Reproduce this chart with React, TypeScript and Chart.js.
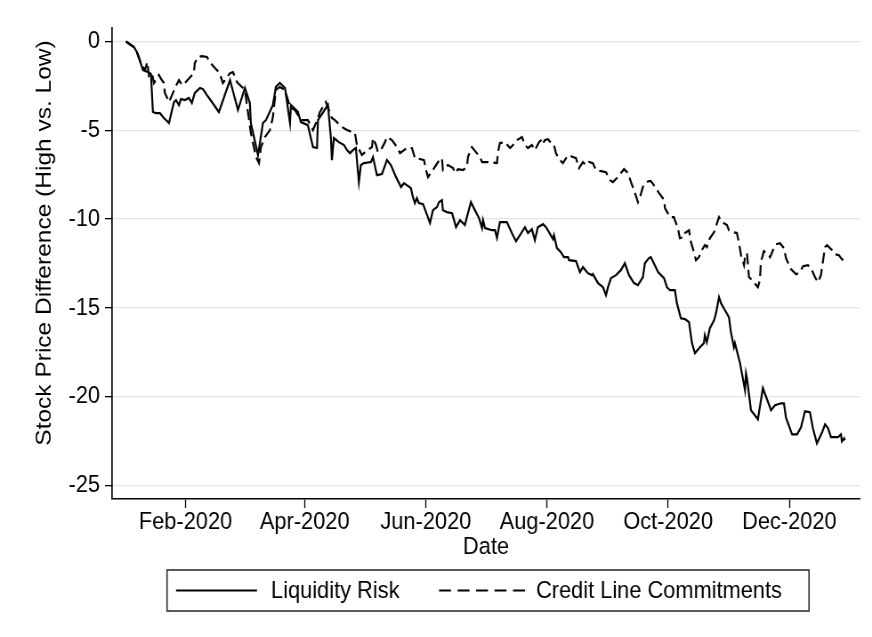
import React, { useEffect, useRef } from "react";
import { Chart, registerables } from "chart.js";

Chart.register(...registerables);

// Day of year 2020 (Jan 1 = 0) for each observation
const liqDays = [
  1.0, 3.5, 5.0, 6.5, 7.6, 8.6, 9.6, 12.1, 13.6, 14.6, 16.1, 18.1, 20.1, 22.7, 24.2, 25.2, 26.2, 27.7, 28.7, 30.7,
  32.7, 34.2, 35.7, 38.3, 39.8, 41.8, 44.3, 47.8, 53.4, 57.4, 60.9, 63.4, 63.9, 67.5, 70.0, 71.5, 75.0, 76.5, 78.5,
  81.1, 83.6, 84.1, 87.6, 89.1, 92.6, 95.2, 97.2, 97.7, 102.7, 104.2, 104.7, 105.7, 108.2, 110.8, 112.3, 113.8,
  115.3, 116.8, 117.3, 118.3, 119.3, 120.8, 124.4, 125.4, 127.4, 129.9, 132.4, 134.4, 137.0, 139.5, 141.0, 144.5,
  145.5, 146.5, 147.5, 148.5, 150.6, 152.1, 154.1, 155.6, 157.6, 158.6, 160.1, 160.6, 162.6, 165.2, 167.2, 169.2,
  171.7, 172.7, 174.7, 176.7, 178.8, 180.3, 180.8, 181.8, 185.3, 186.8, 187.8, 189.3, 192.8, 195.3, 197.4, 199.4,
  201.9, 203.4, 205.4, 206.9, 208.4, 211.0, 212.5, 214.0, 216.0, 216.5, 218.0, 220.0, 221.5, 223.6, 224.1, 227.6,
  229.6, 231.1, 233.6, 235.6, 236.1, 238.7, 241.2, 242.7, 243.7, 245.2, 247.7, 250.2, 252.2, 254.3, 256.8, 258.8,
  261.3, 262.3, 264.3, 265.3, 266.8, 268.9, 270.4, 271.9, 273.4, 274.9, 277.4, 278.4, 280.4, 282.5, 284.5, 286.0,
  287.5, 290.0, 292.0, 292.5, 293.5, 295.0, 297.1, 298.1, 299.6, 300.6, 302.6, 304.6, 305.6, 307.1, 307.6, 310.2,
  312.7, 313.2, 313.7, 315.7, 319.2, 321.7, 325.8, 327.8, 330.8, 332.3, 333.3, 336.4, 338.9, 340.9, 342.9, 345.4,
  346.9, 348.9, 351.5, 353.0, 354.5, 356.0, 359.5, 361.0, 361.5, 362.6, 363.0,
];
const liqValues = [
  0.0, -0.2, -0.31, -0.59, -0.93, -1.27, -1.61, -1.72, -1.83, -3.97, -4.03, -4.03, -4.31, -4.59, -3.86, -3.41, -3.3,
  -3.58, -3.24, -3.3, -3.18, -3.47, -2.9, -2.62, -2.68, -3.02, -3.41, -3.97, -2.17, -3.86, -2.62, -3.47, -4.59, -6.4,
  -4.59, -4.43, -3.58, -2.56, -2.34, -2.62, -4.59, -3.58, -3.97, -4.54, -4.71, -5.95, -6.0, -4.43, -3.58, -5.44,
  -6.68, -5.44, -5.67, -5.83, -6.12, -6.29, -6.12, -6.0, -6.68, -7.92, -6.96, -6.85, -6.79, -6.51, -7.53, -7.47,
  -6.68, -6.96, -7.64, -8.2, -7.98, -8.26, -8.77, -9.1, -8.82, -9.1, -9.16, -9.61, -10.23, -9.5, -9.33, -9.05, -8.93,
  -9.5, -9.61, -9.67, -10.46, -10.06, -10.34, -9.89, -9.05, -9.5, -9.95, -10.51, -10.06, -10.51, -10.63, -10.63,
  -11.07, -10.17, -10.17, -10.79, -11.25, -10.91, -10.46, -10.79, -10.57, -11.19, -10.46, -10.29, -10.46, -10.74,
  -11.13, -10.91, -11.64, -11.87, -12.15, -12.15, -12.32, -12.37, -12.99, -12.71, -13.05, -13.16, -13.1, -13.61,
  -13.84, -14.29, -13.84, -13.33, -13.16, -12.88, -12.49, -13.16, -13.61, -13.72, -13.27, -12.49, -12.2, -12.15,
  -12.49, -12.99, -13.16, -13.33, -13.84, -14.01, -14.01, -14.74, -15.59, -15.64, -15.81, -16.99, -17.56, -17.22,
  -16.99, -16.54, -16.94, -16.15, -15.7, -15.3, -14.4, -14.74, -15.14, -15.53, -16.37, -17.22, -16.99, -18.12,
  -19.64, -18.69, -18.97, -20.77, -21.28, -19.53, -20.77, -20.49, -20.38, -20.38, -21.17, -22.13, -22.13, -21.73,
  -20.83, -20.88, -21.79, -22.63, -22.01, -21.56, -21.79, -22.29, -22.29, -22.13, -22.52, -22.35, -22.46,
];

const clcDays = [
  1.0, 3.5, 5.0, 6.5, 7.6, 8.6, 10.6, 11.8, 12.6, 14.1, 15.1, 17.6, 19.1, 20.1, 20.6, 22.7, 24.2, 25.7, 27.7, 29.2,
  30.7, 35.2, 35.7, 37.3, 39.3, 41.8, 43.3, 45.8, 47.8, 48.8, 49.8, 53.4, 54.9, 56.9, 60.9, 63.9, 66.5, 68.0, 69.0,
  71.0, 73.5, 75.0, 76.5, 78.5, 81.1, 83.6, 86.1, 89.1, 92.6, 95.2, 97.7, 98.7, 101.7, 104.7, 106.2, 109.8, 112.3,
  114.8, 116.3, 117.3, 119.8, 122.4, 124.9, 125.4, 126.9, 127.9, 129.9, 131.4, 132.4, 134.9, 137.5, 139.0, 142.5,
  145.0, 146.5, 149.0, 151.1, 152.1, 153.1, 155.6, 158.1, 160.1, 160.6, 163.1, 165.7, 166.7, 168.2, 170.7, 172.7,
  173.2, 175.2, 177.7, 179.3, 180.3, 182.8, 187.8, 188.3, 189.3, 191.8, 194.4, 195.9, 197.9, 200.4, 201.9, 203.4,
  205.4, 206.9, 209.0, 210.5, 211.0, 212.0, 213.5, 215.0, 216.5, 217.5, 219.0, 221.0, 222.6, 224.1, 226.1, 227.6,
  229.1, 231.1, 232.6, 234.1, 236.1, 237.7, 240.2, 242.7, 244.7, 246.2, 247.7, 250.2, 251.8, 253.8, 255.3, 256.8,
  258.8, 259.8, 261.3, 262.3, 264.3, 265.3, 266.8, 269.4, 271.9, 272.4, 274.9, 276.9, 277.4, 278.9, 279.9, 281.9,
  282.5, 284.5, 285.5, 287.0, 288.0, 289.5, 291.0, 292.5, 293.5, 295.0, 297.1, 298.6, 299.6, 301.1, 303.6, 304.6,
  306.6, 308.6, 309.7, 310.7, 312.2, 312.7, 313.7, 314.7, 316.2, 319.2, 320.2, 320.7, 322.2, 323.8, 325.3, 326.8,
  328.3, 330.3, 332.3, 333.3, 335.8, 338.4, 340.4, 341.9, 344.4, 346.4, 347.9, 349.4, 350.9, 352.0, 353.0, 354.0,
  355.5, 356.5, 358.0, 360.0, 361.0, 363.0,
];
const clcValues = [
  0.0, -0.2, -0.31, -0.59, -0.93, -1.27, -1.61, -1.16, -1.94, -1.78, -2.34, -1.89, -2.17, -2.34, -2.9, -3.41, -3.02,
  -2.62, -2.17, -2.45, -2.34, -1.78, -1.21, -0.87, -0.82, -0.87, -1.16, -1.49, -1.72, -2.0, -2.34, -1.78, -1.72,
  -2.28, -2.73, -5.16, -6.51, -6.85, -5.95, -5.38, -4.99, -4.26, -2.73, -2.56, -2.73, -3.69, -3.86, -4.43, -4.43,
  -4.99, -4.31, -3.97, -3.41, -4.31, -4.43, -4.82, -4.99, -5.1, -5.16, -5.83, -6.4, -6.12, -5.95, -5.44, -5.83,
  -6.23, -6.0, -5.67, -5.38, -5.55, -5.95, -6.29, -6.0, -6.0, -6.57, -6.62, -6.68, -7.24, -7.64, -7.24, -6.79,
  -6.57, -7.24, -6.96, -7.13, -7.41, -7.19, -7.24, -7.07, -6.51, -5.95, -6.29, -6.51, -6.79, -6.79, -6.85, -6.23,
  -5.72, -5.67, -6.0, -5.83, -5.55, -5.38, -5.83, -6.0, -5.83, -6.12, -5.67, -5.5, -5.72, -5.55, -5.5, -5.72, -5.83,
  -6.29, -6.62, -6.85, -6.57, -6.4, -6.51, -6.57, -7.13, -6.79, -6.96, -6.79, -6.85, -7.24, -7.3, -7.36, -7.81,
  -7.92, -7.75, -7.41, -7.19, -7.41, -7.92, -8.37, -9.05, -8.77, -8.2, -7.98, -7.86, -7.86, -8.09, -8.54, -8.91,
  -9.39, -9.89, -9.89, -10.06, -10.51, -11.08, -11.02, -10.79, -10.63, -11.3, -11.87, -12.32, -12.15, -11.75,
  -11.47, -11.58, -11.08, -10.74, -10.23, -9.89, -10.17, -10.34, -10.63, -10.74, -10.79, -11.36, -12.04, -12.6,
  -12.15, -11.92, -13.27, -13.44, -13.84, -13.44, -12.43, -11.81, -11.92, -12.15, -11.75, -11.42, -11.36, -11.64,
  -12.2, -12.82, -13.11, -12.99, -12.66, -12.6, -12.88, -13.27, -13.56, -13.16, -12.32, -11.58, -11.47, -11.64,
  -11.75, -11.98, -12.04, -12.2, -12.43,
];

const xTickDays = [31, 91, 152, 213, 274, 335];
const xTickLabels = ["Feb-2020", "Apr-2020", "Jun-2020", "Aug-2020", "Oct-2020", "Dec-2020"];
const yTickValues = [0, -5, -10, -15, -20, -25];
const seriesNames = ["Liquidity Risk", "Credit Line Commitments"];
const xTitle = "Date";
const yTitle = "Stock Price Difference (High vs. Low)";

const FONT = "'Liberation Sans', Arial, Helvetica, sans-serif";
const FS = 24.5;
// The canvas is drawn wider and shown squeezed horizontally (like the reference export)
const VIEW_W = 872;
const VIEW_H = 637;
const CANVAS_W = 980;
const K = VIEW_W / CANVAS_W;
const cx = (px: number) => px / K; // view x -> canvas x

const decorPlugin = {
  id: "stataDecor",
  afterDraw(chart: any) {
    const ctx = chart.ctx;
    ctx.save();
    // y title
    ctx.fillStyle = "#000";
    ctx.font = `${FS}px ${FONT}`;
    ctx.textAlign = "center";
    ctx.textBaseline = "middle";
    ctx.translate(cx(45), 243);
    ctx.rotate(-Math.PI / 2);
    ctx.fillText(yTitle, 0, 0);
    ctx.restore();

    ctx.save();
    const bx = cx(167), by = 570, bw = cx(809) - cx(167), bh = 41;
    ctx.strokeStyle = "#222";
    ctx.lineWidth = 1.5;
    ctx.setLineDash([]);
    ctx.strokeRect(bx, by, bw, bh);
    const cy = by + bh / 2;
    ctx.strokeStyle = "#000";
    ctx.lineWidth = 2.1;
    ctx.beginPath();
    ctx.moveTo(cx(176), cy);
    ctx.lineTo(cx(257), cy);
    ctx.stroke();
    ctx.setLineDash([cx(12), cx(6.5)]);
    ctx.beginPath();
    ctx.moveTo(cx(439), cy);
    ctx.lineTo(cx(526), cy);
    ctx.stroke();
    ctx.setLineDash([]);
    ctx.fillStyle = "#000";
    ctx.font = `${FS}px ${FONT}`;
    ctx.textBaseline = "middle";
    ctx.textAlign = "left";
    ctx.fillText(seriesNames[0], cx(271), cy + 1);
    ctx.fillText(seriesNames[1], cx(536), cy + 1);
    ctx.restore();
  },
};

export default function App() {
  const ref = useRef<HTMLCanvasElement | null>(null);
  useEffect(() => {
    if (!ref.current) return;
    const liq = liqDays.map((d, i) => ({ x: d, y: liqValues[i] }));
    const clc = clcDays.map((d, i) => ({ x: d, y: clcValues[i] }));
    const chart = new Chart(ref.current, {
      type: "line",
      data: {
        datasets: [
          {
            label: seriesNames[0],
            data: liq,
            borderColor: "#000",
            borderWidth: 2.2,
            pointRadius: 0,
            tension: 0,
            fill: false,
          },
          {
            label: seriesNames[1],
            data: clc,
            borderColor: "#000",
            borderWidth: 2.2,
            borderDash: [11, 5.5],
            pointRadius: 0,
            tension: 0,
            fill: false,
          },
        ],
      },
      options: {
        responsive: false,
        animation: false,
        devicePixelRatio: 1,
        layout: { padding: { left: 0, right: cx(12), top: 28, bottom: 0 } },
        plugins: { legend: { display: false }, tooltip: { enabled: false } },
        scales: {
          x: {
            type: "linear",
            min: -6,
            max: 370.6,
            afterBuildTicks: (s: any) => {
              s.ticks = xTickDays.map((v) => ({ value: v }));
            },
            afterFit: (s: any) => {
              s.height = 138;
            },
            ticks: {
              autoSkip: false,
              maxRotation: 0,
              padding: 0,
              color: "#000",
              font: { family: FONT, size: FS },
              callback: (v: any) => {
                const i = xTickDays.indexOf(Number(v));
                return i >= 0 ? xTickLabels[i] : "";
              },
            },
            grid: {
              drawOnChartArea: false,
              drawTicks: true,
              tickLength: 9,
              tickColor: "#000",
              tickWidth: 1.3,
            },
            border: { display: true, color: "#000", width: 1.5 },
            title: {
              display: true,
              text: xTitle,
              color: "#000",
              font: { family: FONT, size: FS },
              padding: { top: 0, bottom: 75 },
            },
          },
          y: {
            type: "linear",
            min: -25.77,
            max: 0.76,
            afterBuildTicks: (s: any) => {
              s.ticks = yTickValues.map((v) => ({ value: v }));
            },
            afterFit: (s: any) => {
              s.width = cx(112);
            },
            ticks: {
              padding: cx(5),
              color: "#000",
              font: { family: FONT, size: FS },
              callback: (v: any) => String(v),
            },
            grid: {
              color: "#e4e4e4",
              lineWidth: 1.3,
              drawTicks: true,
              tickLength: cx(7),
              tickColor: "#000",
              tickWidth: 1.3,
            },
            border: { display: true, color: "#000", width: 1.7 },
            title: { display: false },
          },
        },
      },
      plugins: [decorPlugin],
    });
    return () => chart.destroy();
  }, []);
  return (
    <div style={{ position: "fixed", left: 0, top: 0, width: VIEW_W, height: VIEW_H, background: "#fff" }}>
      <canvas
        ref={ref}
        width={CANVAS_W}
        height={VIEW_H}
        style={{ display: "block", width: VIEW_W, height: VIEW_H }}
      />
    </div>
  );
}
